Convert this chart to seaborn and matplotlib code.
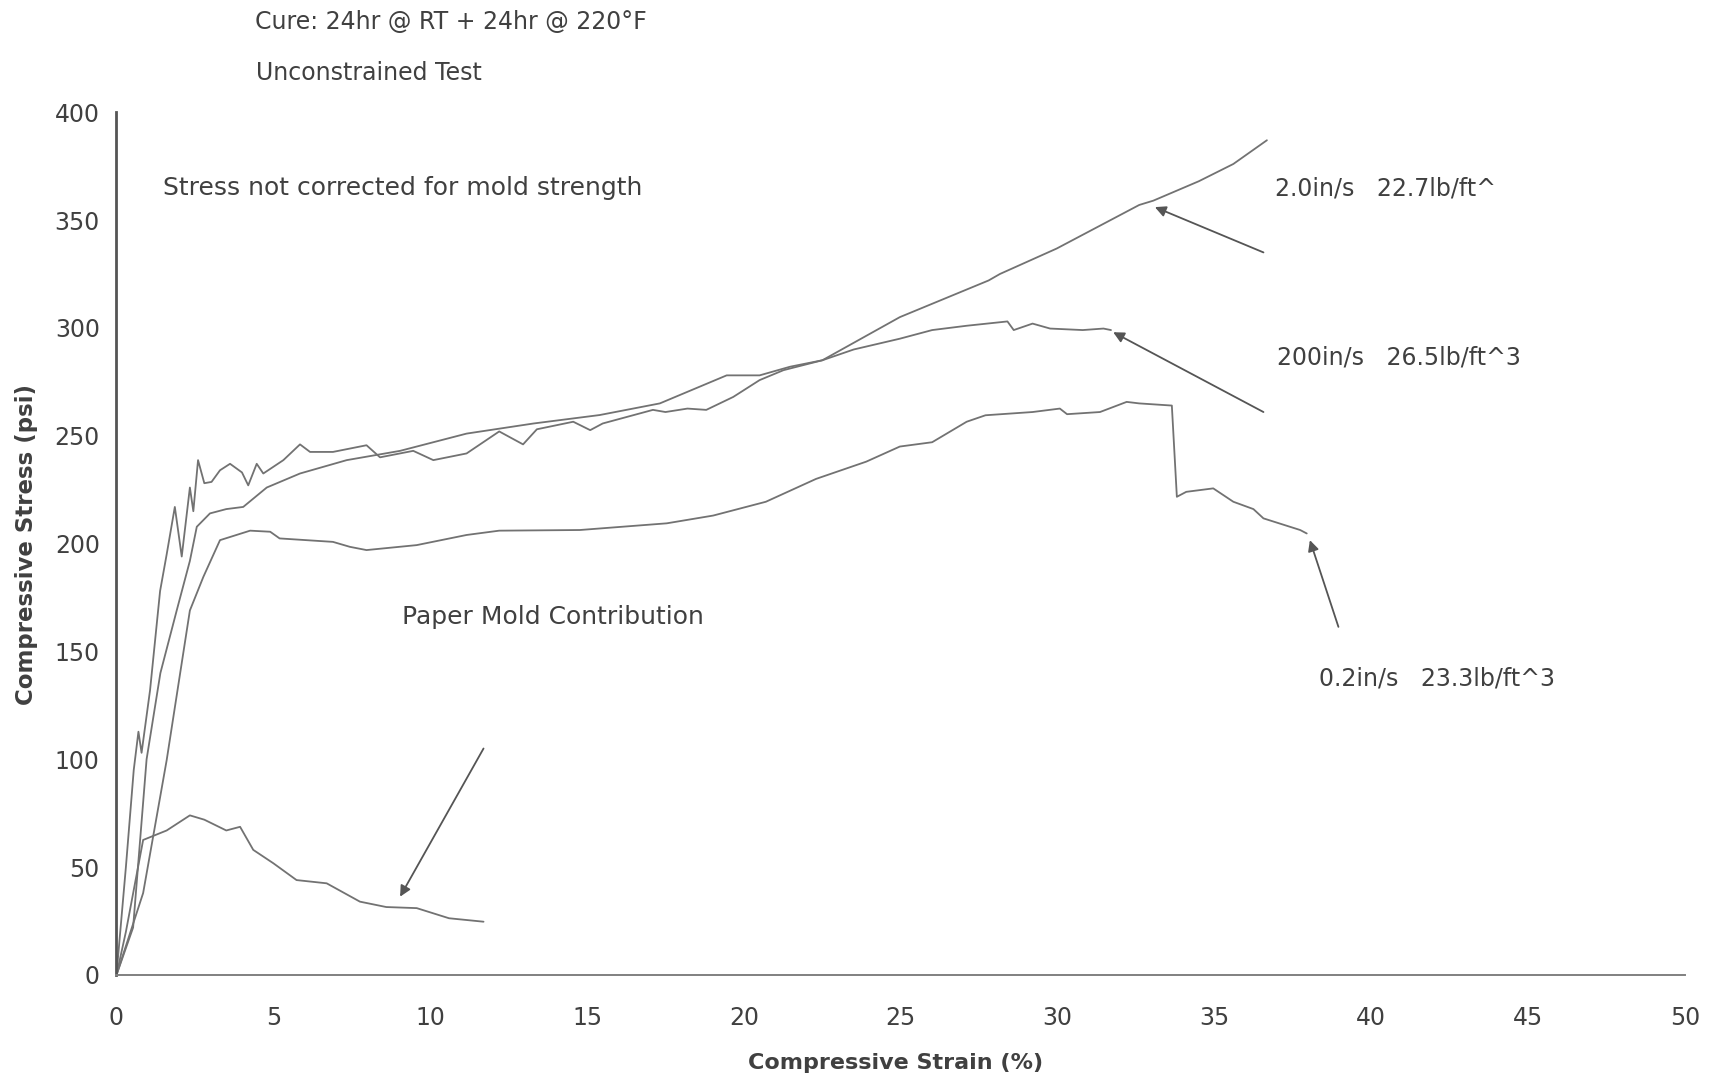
import numpy as np
import matplotlib
matplotlib.use("Agg")
import matplotlib.pyplot as plt
import seaborn as sns

# strain (%) / stress (psi)
x_20 = [0, 0.53, 0.96, 1.4, 1.92, 2.34, 2.56, 2.98, 3.5, 4.04, 4.79, 5.85, 7.34, 9.04,
        11.16, 13.3, 15.4, 17.32, 19.45, 20.5, 21.47, 22.5, 24.97, 27.8, 28.16, 29.97,
        32.6, 33.05, 34.5, 35.6, 36.67]
y_20 = [0, 22, 100, 140, 169, 192, 207.8, 214, 216, 217, 226, 232.5, 238.7, 243,
        251, 255.7, 259.6, 265, 278, 278, 282, 285, 305, 322, 325, 336.8,
        357, 359, 368, 376, 387]

x_200 = [0, 0.3, 0.55, 0.7, 0.8, 1.07, 1.39, 1.6, 1.86, 2.08, 2.34, 2.45, 2.6, 2.8, 3.03,
         3.3, 3.62, 4.0, 4.2, 4.47, 4.68, 5.32, 5.85, 6.17, 6.9, 7.97, 8.4, 9.46, 10.1,
         11.16, 12.2, 12.96, 13.4, 14.56, 15.1, 15.5, 17.1, 17.5, 18.2, 18.8, 19.66,
         20.5, 21.26, 22.5, 23.5, 24.97, 26.0, 27.1, 28.4, 28.6, 29.2, 29.76, 30.8,
         31.46, 31.7]
y_200 = [0, 50, 95, 112.8, 103, 132, 178, 195, 217, 194, 226, 215, 238.7, 228, 228.6,
         234, 237, 233, 227, 237, 232.5, 238.7, 246, 242.5, 242.5, 245.6, 240, 243, 238.7,
         241.8, 252, 246, 253, 256.5, 252.6, 255.7, 262, 261, 262.6, 262, 268,
         275.8, 280.4, 285, 290, 295, 299, 301, 303, 299, 302, 299.7, 299,
         299.7, 299]

x_02 = [0, 0.85, 1.6, 2.34, 2.77, 3.3, 4.26, 4.9, 5.2, 6.9, 7.44, 7.97, 9.57, 11.16,
        12.2, 14.77, 17.54, 19.02, 20.7, 22.3, 23.9, 24.97, 26.0, 27.1, 27.7, 29.2,
        30.07, 30.3, 31.35, 32.2, 32.6, 33.64, 33.8, 34.1, 34.96, 35.6, 36.24, 36.56,
        37.73, 37.94]
y_02 = [0, 38, 99.6, 169, 184.6, 201.6, 206, 205.5, 202.4, 200.8, 198.5, 197, 199.3, 204,
        206, 206.3, 209.4, 213, 219.4, 230, 238, 245, 247, 256.5, 259.5, 261,
        262.6, 260, 261, 265.7, 265, 264, 221.7, 224, 225.6, 219.4, 216, 211.7,
        206.3, 204.7]

x_mold = [0, 0.3, 0.85, 1.6, 2.34, 2.8, 3.5, 3.94, 4.36, 5.0, 5.74, 6.7, 7.76, 8.6,
          9.57, 10.6, 11.7]
y_mold = [0, 20, 62.6, 67, 74, 72, 67, 68.7, 58, 51.8, 44, 42.5, 34, 31.5,
          31, 26.3, 24.7]

x_ticks = list(range(0, 51, 5))
y_ticks = list(range(0, 401, 50))

sns.set_style("white")
plt.rcParams['font.family'] = ['DejaVu Sans']

line_col = '#727272'
text_col = '#404040'

fig = plt.figure(figsize=(17.23, 10.79), dpi=100)
ax = fig.add_axes([0.0676, 0.0964, 0.9104, 0.7996])

for xs, ys in [(x_20, y_20), (x_200, y_200), (x_02, y_02), (x_mold, y_mold)]:
    sns.lineplot(x=xs, y=ys, ax=ax, color=line_col, linewidth=1.3,
                 estimator=None, sort=False)

ax.set_xlim(0, 50)
ax.set_ylim(0, 400)
ax.set_xticks(x_ticks)
ax.set_yticks(y_ticks)
ax.tick_params(axis='x', direction='inout', length=12, width=1.2, color='#555555',
               labelsize=17, labelcolor=text_col, pad=16)
ax.tick_params(axis='y', direction='out', length=6, width=1, color='#bbbbbb',
               labelsize=17, labelcolor=text_col, pad=6)
for s in ['top', 'right']:
    ax.spines[s].set_visible(False)
ax.spines['left'].set_color('#555555')
ax.spines['left'].set_linewidth(2)
ax.spines['bottom'].set_color('#808080')
ax.spines['bottom'].set_linewidth(1.4)
ax.set_xlabel('')
ax.set_ylabel('')

fig.text(0.0151, 0.4958, 'Compressive Stress (psi)', rotation=90, ha='center', va='center',
         fontsize=16.5, fontweight='bold', color=text_col)
fig.text(0.52, 0.0148, 'Compressive Strain (%)', ha='center', va='center',
         fontsize=16, fontweight='bold', color=text_col)

fig.text(0.148, 0.9796, 'Cure: 24hr @ RT + 24hr @ 220°F', ha='left', va='center',
         fontsize=17, color=text_col)
fig.text(0.1486, 0.9328, 'Unconstrained Test', ha='left', va='center',
         fontsize=17, color=text_col)

ax.text(1.48, 364.8, 'Stress not corrected for mold strength', ha='left', va='center',
        fontsize=18, color=text_col)
ax.text(36.93, 364.8, '2.0in/s   22.7lb/ft^', ha='left', va='center',
        fontsize=17, color=text_col)
ax.text(36.99, 286.4, '200in/s   26.5lb/ft^3', ha='left', va='center',
        fontsize=17, color=text_col)
ax.text(9.1, 166, 'Paper Mold Contribution', ha='left', va='center',
        fontsize=18, color=text_col)
ax.text(38.33, 137.6, '0.2in/s   23.3lb/ft^3', ha='left', va='center',
        fontsize=17, color=text_col)

arrow = dict(arrowstyle='-|>', color='#555555', lw=1.3, mutation_scale=16,
             shrinkA=0, shrinkB=0)
ax.annotate('', xy=(33.1, 356), xytext=(36.56, 335), arrowprops=arrow)
ax.annotate('', xy=(31.77, 298), xytext=(36.56, 261), arrowprops=arrow)
ax.annotate('', xy=(38.04, 201.6), xytext=(38.95, 161.4), arrowprops=arrow)
ax.annotate('', xy=(9.04, 36.3), xytext=(11.7, 105), arrowprops=arrow)

fig.savefig('out.png', dpi=100)
